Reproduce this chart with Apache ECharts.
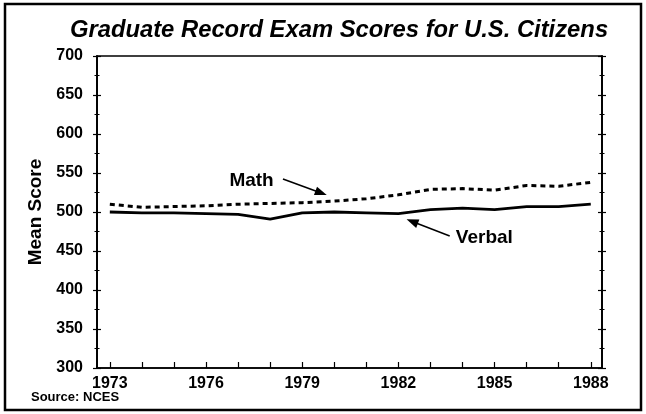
<!DOCTYPE html>
<html><head><meta charset="utf-8">
<script src="https://cdn.jsdelivr.net/npm/echarts@6/dist/echarts.min.js"></script>
<style>html,body{margin:0;padding:0;background:#fff}#c{width:646px;height:414px}</style>
</head><body><div id="c"></div>
<script>
const years = [1973,1974,1975,1976,1977,1978,1979,1980,1981,1982,1983,1984,1985,1986,1987,1988];
const mathScores = [510,506,507,508,510,511,512,514,517,522,529,530,528,534,533,538];
const verbalScores = [500,499,499,498,497,491,499,500,499,498,503,505,503,507,507,510];
const xLabelYears = [1973,1976,1979,1982,1985,1988];
const seriesNames = ['Math','Verbal'];

const FONT = '"Liberation Sans", Arial, Helvetica, sans-serif';
const chart = echarts.init(document.getElementById('c'), null, {renderer:'canvas'});

const yBase = {type:'value', min:300, max:700, interval:50, splitLine:{show:false},
  axisLine:{show:true, lineStyle:{color:'#000', width:1.5}}};
function yAx(pos, inside, withLabels){
  return Object.assign({}, yBase, {
    position: pos,
    axisTick:{show:true, inside:inside, length:4, lineStyle:{color:'#000', width:1.2}},
    minorTick:{show:true, splitNumber:2, length:2.5, lineStyle:{color:'#000', width:1}},
    minorSplitLine:{show:false},
    axisLabel:{show:withLabels, margin:14, color:'#000', fontFamily:FONT, fontWeight:'bold', fontSize:16},
    name: withLabels ? 'Mean Score' : '',
    nameLocation:'middle', nameGap:52, nameRotate:90,
    nameTextStyle:{color:'#000', fontFamily:FONT, fontWeight:'bold', fontSize:19}
  });
}

const option = {
  animation:false,
  backgroundColor:'#fff',
  title:{text:'Graduate Record Exam Scores for U.S. Citizens', left:337, textAlign:'center', top:13,
    textStyle:{color:'#000', fontFamily:FONT, fontWeight:'bold', fontStyle:'italic', fontSize:23.8}},
  graphic:[
    {type:'rect', shape:{x:5, y:4, width:636, height:406}, style:{fill:'none', stroke:'#000', lineWidth:2.5}, silent:true},
    {type:'text', left:31, top:391, style:{text:'Source: NCES', fill:'#000', font:'bold 13px ' + FONT}}
  ],
  grid:{left:97, right:44, top:56, bottom:46, show:true, borderColor:'#000', borderWidth:1.5, backgroundColor:'transparent'},
  xAxis:{type:'value', min:1972.6, max:1988.35, splitLine:{show:false},
    axisLine:{show:true, lineStyle:{color:'#000', width:1.5}},
    axisTick:{show:true, inside:true, length:6, customValues:years, lineStyle:{color:'#000', width:1.2}},
    axisLabel:{show:true, customValues:xLabelYears, margin:8, color:'#000', fontFamily:FONT, fontWeight:'bold', fontSize:16, formatter:v=>String(v)}},
  yAxis:[yAx('left', false, true), yAx('left', true, false), yAx('right', false, false), yAx('right', true, false)],
  series:[
    {name:seriesNames[0], type:'line', yAxisIndex:0, symbol:'none', data:years.map((y,i)=>[y, mathScores[i]]),
      lineStyle:{color:'#000', width:3, type:[5,4]},
      markLine:{silent:true, symbol:['none','triangle'], label:{show:false}, lineStyle:{color:'#000', width:1.5, type:'solid'},
        data:[[{coord:[1978.4,542.4], symbol:'none'},{coord:[1979.59,524.4], symbol:'triangle', symbolSize:[9,12]}]]},
      markPoint:{silent:true, symbol:'circle', symbolSize:1, itemStyle:{color:'rgba(0,0,0,0)'},
        label:{show:true, position:'inside', formatter:'{b}', color:'#000', fontFamily:FONT, fontWeight:'bold', fontSize:19},
        data:[{name:seriesNames[0], coord:[1977.42,540.1]}]}},
    {name:seriesNames[1], type:'line', yAxisIndex:0, symbol:'none', data:years.map((y,i)=>[y, verbalScores[i]]),
      lineStyle:{color:'#000', width:2.8, type:'solid'},
      markLine:{silent:true, symbol:['none','triangle'], label:{show:false}, lineStyle:{color:'#000', width:1.5, type:'solid'},
        data:[[{coord:[1983.6,469.2], symbol:'none'},{coord:[1982.43,487.8], symbol:'triangle', symbolSize:[9,12]}]]},
      markPoint:{silent:true, symbol:'circle', symbolSize:1, itemStyle:{color:'rgba(0,0,0,0)'},
        label:{show:true, position:'inside', formatter:'{b}', color:'#000', fontFamily:FONT, fontWeight:'bold', fontSize:19},
        data:[{name:seriesNames[1], coord:[1984.68,467.6]}]}}
  ]
};
option.title.left = 334;
chart.setOption(option);
</script></body></html>
